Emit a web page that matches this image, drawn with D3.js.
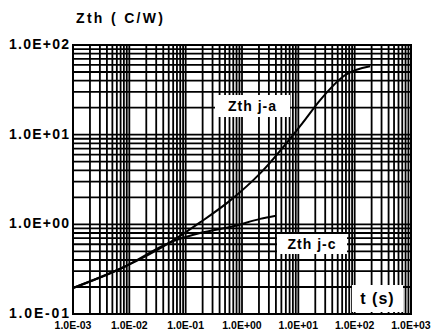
<!DOCTYPE html>
<html lang="en">
<head>
  <meta charset="utf-8">
  <title>Zth</title>
  <script src="https://d3js.org/d3.v7.min.js"></script>
  <style>
    body { margin: 0; background: #fff; }
    text { font-family: "Liberation Sans", Arial, sans-serif; font-weight: bold; fill: #000; }
  </style>
</head>
<body>
  <script>
    var width = 438;
    var height = 332;

    var tJA = [0.001, 0.0077, 0.053, 0.18, 0.62, 2.1, 12, 24, 67, 188];
    var zJA = [0.195, 0.33, 0.63, 1.05, 1.85, 3.7, 13.6, 24, 46, 58];
    var tJC = [0.001, 0.0077, 0.053, 0.18, 0.7, 2.1, 4];
    var zJC = [0.195, 0.33, 0.63, 0.8, 0.95, 1.15, 1.25];

    var xTicks = [1e-3, 1e-2, 1e-1, 1e0, 1e1, 1e2, 1e3];
    var xTickLabels = ["1.0E-03", "1.0E-02", "1.0E-01", "1.0E+00", "1.0E+01", "1.0E+02", "1.0E+03"];
    var yTicks = [1e2, 1e1, 1e0, 1e-1];
    var yTickLabels = ["1.0E+02", "1.0E+01", "1.0E+00", "1.0E-01"];

    var svg = d3.select("body").append("svg")
      .attr("width", width)
      .attr("height", height);

    var x = d3.scaleLog().domain([1e-3, 1e3]).range([73, 411]);
    var y = d3.scaleLog().domain([0.1, 100]).range([314, 45]);

    // log grid, every 1..9 in each decade
    var grid = svg.append("g");
    grid.selectAll("line.v")
      .data(x.ticks())
      .enter().append("line")
      .attr("x1", d => x(d)).attr("x2", d => x(d))
      .attr("y1", 45).attr("y2", 314)
      .attr("stroke", "#000")
      .attr("stroke-width", 1.8);
    grid.selectAll("line.h")
      .data(y.ticks())
      .enter().append("line")
      .attr("y1", d => y(d)).attr("y2", d => y(d))
      .attr("x1", 73).attr("x2", 411)
      .attr("stroke", "#000")
      .attr("stroke-width", 1.8);
    grid.append("rect")
      .attr("x", 73).attr("y", 45)
      .attr("width", 338).attr("height", 269)
      .attr("fill", "none").attr("stroke", "#000").attr("stroke-width", 2);

    var line = d3.line()
      .x(d => x(d[0]))
      .y(d => y(d[1]))
      .curve(d3.curveMonotoneX);

    svg.append("path")
      .datum(d3.zip(tJA, zJA))
      .attr("d", line)
      .attr("fill", "none").attr("stroke", "#000").attr("stroke-width", 2);
    svg.append("path")
      .datum(d3.zip(tJC, zJC))
      .attr("d", line)
      .attr("fill", "none").attr("stroke", "#000").attr("stroke-width", 2);

    // labels in white boxes
    var boxes = [
      { text: "Zth j-a", x: 215, y: 95, w: 75, h: 22, fs: 14 },
      { text: "Zth j-c", x: 277, y: 234, w: 70, h: 20, fs: 14 },
      { text: "t (s)", x: 352, y: 285, w: 51, h: 27, fs: 16 }
    ];
    boxes.forEach(function (b) {
      svg.append("rect")
        .attr("x", b.x).attr("y", b.y)
        .attr("width", b.w).attr("height", b.h)
        .attr("fill", "#fff");
      svg.append("text")
        .attr("x", b.x + b.w / 2).attr("y", b.y + b.h / 2 + b.fs * 0.36)
        .attr("text-anchor", "middle")
        .attr("font-size", b.fs)
        .attr("letter-spacing", 1)
        .text(b.text);
    });

    svg.append("text")
      .attr("x", 76).attr("y", 23)
      .attr("font-size", 14)
      .attr("textLength", 87)
      .attr("lengthAdjust", "spacing")
      .text("Zth ( C/W)");

    svg.selectAll("text.ylab")
      .data(yTicks)
      .enter().append("text")
      .attr("x", 9)
      .attr("y", d => y(d) + 4)
      .attr("font-size", 14)
      .attr("textLength", 60)
      .attr("lengthAdjust", "spacing")
      .text((d, i) => yTickLabels[i]);

    svg.selectAll("text.xlab")
      .data(xTicks)
      .enter().append("text")
      .attr("x", d => x(d))
      .attr("y", 329)
      .attr("text-anchor", "middle")
      .attr("font-size", 10.5)
      .text((d, i) => xTickLabels[i]);
  </script>
</body>
</html>
